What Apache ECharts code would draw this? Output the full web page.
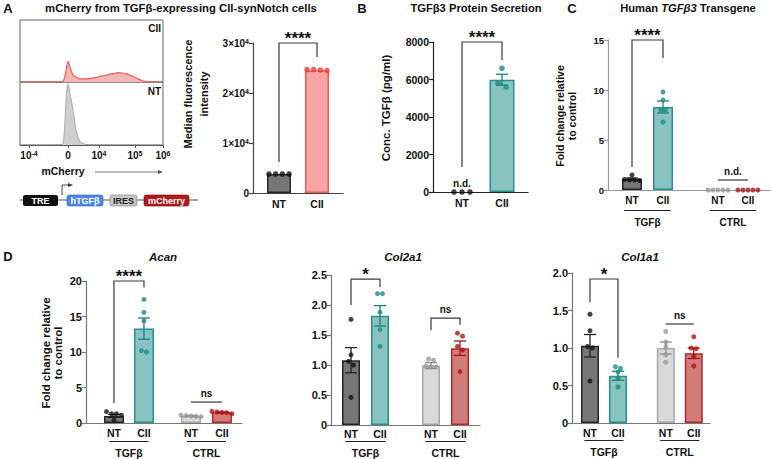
<!DOCTYPE html>
<html><head><meta charset="utf-8">
<script src="https://cdn.jsdelivr.net/npm/echarts@6/dist/echarts.min.js"></script>
<style>html,body{margin:0;padding:0;background:#fff}#c{width:773px;height:459px}</style>
</head><body><div id="c"></div>
<script>
// ================= DATA =================
// Panel A – flow cytometry histograms (display-scale positions, % of mode)
const histXCII = [0,40,42,44,46,47,48,49,50,52,54,56,58,62,66,70,75,80,85,90,95,98,102,106,110,114,118,122,126,130,143];
const histCII  = [0,0,0,4,18,28,33,30,24,15,10,8,6,5,5,5.5,7,9,10.5,12.5,14,15,14.5,13,11,8,5,2.5,1,0,0];
const histXNT  = [0,42,43,44,45,46,47,48,49,50,52,54,56,58,60,62,66,70,143];
const histNT   = [0,0,3,15,40,70,90,97,92,82,65,45,25,13,6,3,1,0,0];
const histTickPos    = [9,48,79,115,143];
const histTickLabels = ['10{s|-4}','0','10{s|4}','10{s|5}','10{s|6}'];

// Panel A – median fluorescence intensity
const mfiCats = ['NT','CII'];
const mfiMean = [3800, 24500];
const mfiPts  = [[3800,3800,3800,3800],[24500,24700,24700,24600]];

// Panel B – TGFβ3 secretion (pg/ml)
const secCats = ['NT','CII'];
const secMean = [0, 5990];
const secSem  = [0, 290];
const secPts  = [[0,0,0],[6600,5600,5800]];

// Panel C – human TGFβ3 transgene
const cats4  = ['NT','CII','NT','CII'];
const treat  = ['TGFβ','CTRL'];
const tgfMean = [1.1, 8.3, 0, 0];
const tgfSem  = [0.1, 0.6, 0, 0];
const tgfPts  = [[1.5,1.05,1.0,1.0,0.95],[9.8,9.0,8.0,8.0,6.8],[0,0,0,0,0],[0,0,0,0,0]];

// Panel D – Acan
const acanMean = [1.0, 13.3, 1.0, 1.5];
const acanSem  = [0.2, 1.5, 0.05, 0.06];
const acanPts  = [[1.6,1.3,1.3,1.1,0.4],[17.4,15.6,14.4,10.2,10.0],[1.1,1.05,1.0,0.95,0.9],[1.65,1.55,1.5,1.45,1.3]];
// Col2a1
const col2Mean = [1.08, 1.82, 0.99, 1.28];
const col2Sem  = [0.21, 0.17, 0.05, 0.12];
const col2Pts  = [[1.76,1.17,1.06,1.0,0.46],[2.19,2.19,1.88,1.59,1.31],[1.1,1.08,0.98,0.97,0.97],[1.53,1.48,1.31,1.25,0.89]];
// Col1a1
const col1Mean = [1.03, 0.63, 1.0, 0.93];
const col1Sem  = [0.15, 0.06, 0.08, 0.07];
const col1Pts  = [[1.45,1.23,1.02,1.0,0.56],[0.75,0.73,0.68,0.6,0.48],[1.22,1.08,1.02,0.91,0.81],[1.15,1.0,0.99,0.89,0.76]];

// Axis titles
const yTitleMFI = 'Median fluorescence\nintensity';
const yTitleSec = 'Conc. TGFβ (pg/ml)';
const yTitleFold = 'Fold change relative\nto control';

// ================= STYLE / LAYOUT =================
const FONT = "'Liberation Sans', Arial, Helvetica, sans-serif";
const C_NT = {fill:'#767676', border:'#262626', dot:'#111111', err:'#222222'};
const C_CII = {fill:'#86c3c1', border:'#2b8f8b', dot:'#1b8a85', err:'#1f7f7b'};
const C_CNT = {fill:'#d9d9d9', border:'#a8a8a8', dot:'#9a9a9a', err:'#8a8a8a'};
const C_CCII = {fill:'#d27b7b', border:'#b42a2a', dot:'#b01515', err:'#a01818'};
const C_ACII = {fill:'#f9a3a3', border:'#f25a5a', dot:'#ee3b3b', err:'#ee3b3b'};

const chart = echarts.init(document.getElementById('c'), null, {renderer:'svg', width:773, height:459});
const grids=[], xAxes=[], yAxes=[], series=[], graphics=[];

function swarm(vals, pxPerUnit, gap){
  const idx = vals.map((v,i)=>i).sort((a,b)=>vals[b]-vals[a]);
  const off = new Array(vals.length).fill(0);
  let i=0;
  while(i<idx.length){
    let j=i; const y0 = vals[idx[i]]*pxPerUnit;
    while(j+1<idx.length && (y0 - vals[idx[j+1]]*pxPerUnit) < 4) j++;
    const n=j-i+1;
    for(let k=0;k<n;k++) off[idx[i+k]] = (k-(n-1)/2)*gap;
    i=j+1;
  }
  return off;
}

function barPanel(p){
  const gi = grids.length;
  grids.push({left:p.left, top:p.top, width:p.width, height:p.height});
  const labelMap = {}; p.pos.forEach((v,i)=> labelMap[v.toFixed(3)] = p.cats[i]);
  xAxes.push({gridIndex:gi, type:'value', min:p.xmin, max:p.xmax, splitLine:{show:false},
    axisLine:{show:true, onZero:false, lineStyle:{color:p.axisColor, width:1.2}},
    axisTick:{show:false},
    axisLabel:{customValues:p.pos, formatter:v=>labelMap[Number(v).toFixed(3)]||'', margin:p.catMargin||5,
      fontSize:p.catFont, fontWeight:'bold', fontFamily:FONT, color:'#111'}});
  yAxes.push({gridIndex:gi, type:'value', min:0, max:p.ymax, interval:p.interval, splitLine:{show:false},
    axisLine:{show:true, lineStyle:{color:p.axisColor, width:1.2}},
    axisTick:{show:true, length:4, lineStyle:{color:p.axisColor, width:1.2}},
    axisLabel:{formatter:p.yfmt, fontSize:p.tickFont, fontWeight:'bold', fontFamily:FONT, color:'#111', margin:4,
      rich:{s:{fontSize:7, fontWeight:'bold', fontFamily:FONT, color:'#111', verticalAlign:'top', lineHeight:8}}}});
  // bars
  series.push({type:'bar', xAxisIndex:gi, yAxisIndex:gi, barWidth:p.barWidth, silent:true, z:2,
    data:p.means.map((m,i)=>({value:[p.pos[i], m], itemStyle:{color:p.colors[i].fill, borderColor:p.colors[i].border, borderWidth:1.5}}))
      .filter(d=>d.value[1]>0)});
  // error bars
  const sems = p.sems || p.means.map(()=>0);
  series.push({type:'custom', xAxisIndex:gi, yAxisIndex:gi, z:4, silent:true, encode:{x:0,y:1},
    data:sems.map((s,i)=>[p.pos[i], p.means[i], s, i]).filter(d=>d[2]>0),
    renderItem:(params, api)=>{
      const x=api.value(0), m=api.value(1), s=api.value(2), c=p.colors[api.value(3)].err;
      const t=api.coord([x,m+s]), b=api.coord([x,m-s]), hw=p.capHalf;
      const st={stroke:c, lineWidth:1.3};
      return {type:'group', children:[
        {type:'line', shape:{x1:t[0],y1:t[1],x2:b[0],y2:b[1]}, style:st},
        {type:'line', shape:{x1:t[0]-hw,y1:t[1],x2:t[0]+hw,y2:t[1]}, style:st},
        {type:'line', shape:{x1:b[0]-hw,y1:b[1],x2:b[0]+hw,y2:b[1]}, style:st}]};
    }});
  // dots
  const pxPerUnit = p.height/p.ymax;
  const dots=[];
  p.points.forEach((arr,i)=>{
    const off = swarm(arr, pxPerUnit, p.dotGap);
    arr.forEach((v,k)=>dots.push({value:[p.pos[i], v], symbolOffset:[off[k],0], itemStyle:{color:p.colors[i].dot}}));
  });
  series.push({type:'scatter', xAxisIndex:gi, yAxisIndex:gi, symbolSize:p.dotSize, clip:false, silent:true, z:5, data:dots});
  // brackets / annotations
  series.push({type:'custom', xAxisIndex:gi, yAxisIndex:gi, z:6, silent:true, clip:false, encode:{x:0,y:1},
    data:p.brackets.map((b,i)=>[p.pos[b.a], b.yTop, i]),
    renderItem:(params, api)=>{
      const b=p.brackets[api.value(2)];
      const x1=p.pos[b.a], x2=(b.b!=null)?p.pos[b.b]:x1;
      const ch=[];
      if(b.b!=null){
        const pts=[];
        if(b.yL!=null) pts.push(api.coord([x1,b.yL]));
        pts.push(api.coord([x1,b.yTop])); pts.push(api.coord([x2,b.yTop]));
        if(b.yR!=null) pts.push(api.coord([x2,b.yR]));
        ch.push({type:'polyline', shape:{points:pts}, style:{stroke:'#3a3a3a', lineWidth:1.2, fill:null}});
      }
      const mid=api.coord([(x1+x2)/2, b.yTop]);
      const star = b.text.indexOf('*')>=0;
      ch.push({type:'text', x:mid[0], y:mid[1]-(star?4.5:9), style:{text:b.text, fontSize:star?17:10, fontWeight:'bold',
        fontFamily:FONT, fill:'#111', textAlign:'center', textVerticalAlign:'middle', verticalAlign:'middle'}});
      return {type:'group', children:ch};
    }});
  // treatment group lines + labels
  if(p.groups){
    series.push({type:'custom', xAxisIndex:gi, yAxisIndex:gi, z:6, silent:true, clip:false, encode:{x:0,y:1},
      data:p.groups.map((g,i)=>[(p.pos[g.a]+p.pos[g.b])/2, 0, i]),
      renderItem:(params, api)=>{
        const g=p.groups[api.value(2)];
        const c=(p.pos[g.a]+p.pos[g.b])/2;
        const l=api.coord([c-p.groupHalf,0]), r=api.coord([c+p.groupHalf,0]), m=api.coord([c,0]);
        return {type:'group', children:[
          {type:'line', shape:{x1:l[0],y1:l[1]+p.lineDy,x2:r[0],y2:r[1]+p.lineDy}, style:{stroke:'#222', lineWidth:1.2}},
          {type:'text', x:m[0], y:m[1]+p.labelDy, style:{text:g.name, fontSize:p.catFont, fontWeight:'bold', fontFamily:FONT,
            fill:'#111', textAlign:'center', textVerticalAlign:'middle', verticalAlign:'middle'}}]};
      }});
  }
  // y-axis title (rotated, centred lines)
  if(p.yName){
    graphics.push({type:'text', x:p.nameX, y:p.nameY, rotation:Math.PI/2, silent:true,
      style:{text:p.yName, fontSize:p.nameFont, lineHeight:p.nameLH, fontWeight:'bold', fontFamily:FONT, fill:'#111',
        textAlign:'center', align:'center', textVerticalAlign:'middle', verticalAlign:'middle'}});
  }
}

// ---------- Histogram panel A ----------
function histPanel(){
  let gi = grids.length;
  grids.push({left:20, top:20, width:143, height:62, show:true, borderColor:'#666', borderWidth:1});
  xAxes.push({gridIndex:gi, type:'value', min:0, max:143, show:false});
  yAxes.push({gridIndex:gi, type:'value', min:0, max:100, show:false});
  series.push({type:'line', xAxisIndex:gi, yAxisIndex:gi, silent:true, symbol:'none', smooth:0.25, z:3,
    data:histXCII.map((x,i)=>[x,histCII[i]]), lineStyle:{color:'#f25a5a', width:1.2}, areaStyle:{color:'#f8b5b5', opacity:1}});
  gi = grids.length;
  const lab = {}; histTickPos.forEach((v,i)=>lab[v]=histTickLabels[i]);
  grids.push({left:20, top:82, width:143, height:63, show:true, borderColor:'#666', borderWidth:1});
  xAxes.push({gridIndex:gi, type:'value', min:0, max:143, splitLine:{show:false},
    axisLine:{show:true, lineStyle:{color:'#555'}},
    axisTick:{show:true, customValues:histTickPos, length:3, lineStyle:{color:'#555'}},
    axisLabel:{customValues:histTickPos, formatter:v=>lab[v]||'', margin:5, fontSize:10, fontWeight:'bold', fontFamily:FONT, color:'#111',
      rich:{s:{fontSize:7, fontWeight:'bold', fontFamily:FONT, color:'#111', verticalAlign:'top', lineHeight:8}}}});
  yAxes.push({gridIndex:gi, type:'value', min:0, max:100, show:false});
  series.push({type:'line', xAxisIndex:gi, yAxisIndex:gi, silent:true, symbol:'none', smooth:0.25, z:3,
    data:histXNT.map((x,i)=>[x,histNT[i]]), lineStyle:{color:'#9a9a9a', width:0.8}, areaStyle:{color:'#cfcfcf', opacity:1}});
}
histPanel();

barPanel({left:253, top:43, width:90, height:150, xmin:0.316, xmax:2.684, pos:[1,2], cats:mfiCats,
  ymax:30000, interval:10000, yfmt:v=>v===0?'0':(v/1e4)+'×10{s|4}', tickFont:10, catFont:10.5,
  yName:yTitleMFI, nameX:196, nameY:94, nameFont:11, nameLH:16, axisColor:'#444',
  means:mfiMean, sems:null, points:mfiPts, colors:[C_NT,C_ACII], barWidth:24, dotGap:6.7, dotSize:5.5, capHalf:5,
  brackets:[{a:0,b:1,yL:6200,yTop:30000,yR:27200,text:'****'}]});

barPanel({left:433, top:42, width:95, height:150, xmin:0.275, xmax:2.65, pos:[1,2], cats:secCats,
  ymax:8000, interval:2000, yfmt:v=>String(v), tickFont:10.5, catFont:10.5,
  yName:yTitleSec, nameX:386, nameY:108, nameFont:11.5, nameLH:13, axisColor:'#222',
  means:secMean, sems:secSem, points:secPts, colors:[C_NT,C_CII], barWidth:25, dotGap:8, dotSize:5.5, capHalf:6,
  brackets:[{a:0,b:1,yL:1330,yTop:8000,yR:7040,text:'****'},{a:0,b:null,yTop:0,text:'n.d.'}]});

const grp = [{a:0,b:1,name:treat[0]},{a:2,b:3,name:treat[1]}];
barPanel({left:608, top:40, width:162, height:150, xmin:0.226, xmax:5.45, pos:[1,2,3.77,4.74], cats:cats4,
  ymax:15, interval:5, yfmt:v=>String(v), tickFont:9.5, catFont:10,
  yName:yTitleFold, nameX:566, nameY:116, nameFont:10.5, nameLH:12, axisColor:'#9a9a9a',
  means:tgfMean, sems:tgfSem, points:tgfPts, colors:[C_NT,C_CII,C_CNT,C_CCII], barWidth:20, dotGap:5, dotSize:5, capHalf:6,
  groups:grp, groupHalf:0.75, lineDy:20.5, labelDy:32,
  brackets:[{a:0,b:1,yL:2.3,yTop:15,yR:13.2,text:'****'},{a:2,b:3,yL:null,yTop:1.0,yR:null,text:'n.d.'}]});

barPanel({left:86, top:281, width:156, height:142, xmin:0.067, xmax:5.27, pos:[1,2,3.57,4.6], cats:cats4,
  ymax:20, interval:5, yfmt:v=>String(v), tickFont:11, catFont:10.5, catMargin:4,
  yName:yTitleFold, nameX:52, nameY:353, nameFont:11.5, nameLH:12.5, axisColor:'#777',
  means:acanMean, sems:acanSem, points:acanPts, colors:[C_NT,C_CII,C_CNT,C_CCII], barWidth:20, dotGap:5, dotSize:5, capHalf:6,
  groups:grp, groupHalf:0.65, lineDy:18.5, labelDy:30,
  brackets:[{a:0,b:1,yL:2.8,yTop:20,yR:19.1,text:'****'},{a:2,b:3,yL:null,yTop:2.95,yR:null,text:'ns'}]});

barPanel({left:331, top:275, width:149, height:150, xmin:0.31, xmax:5.45, pos:[1,2,3.76,4.76], cats:cats4,
  ymax:2.5, interval:0.5, yfmt:v=>v===0?'0':v.toFixed(1), tickFont:11, catFont:10.5, catMargin:3,
  yName:'', axisColor:'#777',
  means:col2Mean, sems:col2Sem, points:col2Pts, colors:[C_NT,C_CII,C_CNT,C_CCII], barWidth:18, dotGap:5, dotSize:5, capHalf:6,
  groups:grp, groupHalf:0.7, lineDy:16.5, labelDy:28,
  brackets:[{a:0,b:1,yL:2.0,yTop:2.43,yR:2.3,text:'*'},{a:2,b:3,yL:1.58,yTop:1.78,yR:1.67,text:'ns'}]});

barPanel({left:572, top:273, width:138, height:150, xmin:0.357, xmax:5.29, pos:[1,2,3.71,4.71], cats:cats4,
  ymax:2, interval:0.5, yfmt:v=>v===0?'0':v.toFixed(1), tickFont:11, catFont:10.5, catMargin:4,
  yName:'', axisColor:'#777',
  means:col1Mean, sems:col1Sem, points:col1Pts, colors:[C_NT,C_CII,C_CNT,C_CCII], barWidth:18, dotGap:5, dotSize:5, capHalf:6,
  groups:grp, groupHalf:0.7, lineDy:17.5, labelDy:29,
  brackets:[{a:0,b:1,yL:1.61,yTop:1.92,yR:0.87,text:'*'},{a:2,b:3,yL:null,yTop:1.32,yR:null,text:'ns'}]});

// ---------- Text, titles & construct diagram ----------
function txt(t, x, y, size, opts){
  return Object.assign({type:'text', x:x, y:y, silent:true, style:Object.assign({text:t, fontSize:size, fontWeight:'bold', fontFamily:FONT,
    fill:'#111', textAlign:'center', textVerticalAlign:'middle', verticalAlign:'middle'}, (opts||{}))});
}
const rich = {n:{fontSize:11.2, fontWeight:'bold', fontFamily:FONT, fill:'#111'}, i:{fontSize:11.2, fontWeight:'bold', fontStyle:'italic', fontFamily:FONT, fill:'#111'}};
graphics.push(
  txt('A', 8, 8, 13), txt('B', 362, 8, 13), txt('C', 572, 8, 13), txt('D', 8, 256, 13),
  txt('mCherry from TGFβ-expressing CII-synNotch cells', 181, 8, 11.3),
  txt('TGFβ3 Protein Secretion', 476, 8, 11.2),
  {type:'text', x:688, y:8, silent:true, style:{text:'{n|Human }{i|TGFβ3}{n| Transgene}', rich:rich, textAlign:'center', textVerticalAlign:'middle', verticalAlign:'middle'}},
  txt('Acan', 163, 257, 11.5, {fontStyle:'italic'}),
  txt('Col2a1', 403, 257, 11.5, {fontStyle:'italic'}),
  txt('Col1a1', 640, 257, 11.5, {fontStyle:'italic'}),
  txt('CII', 161, 28, 10, {textAlign:'right'}),
  txt('NT', 161, 91, 10, {textAlign:'right'}),
  txt('mCherry', 63, 171, 10.5),
  {type:'line', silent:true, shape:{x1:95,y1:172,x2:160,y2:172}, style:{stroke:'#555', lineWidth:0.8}},
  {type:'polygon', silent:true, shape:{points:[[163,172],[158,170],[158,174]]}, style:{fill:'#555'}},
  // construct
  {type:'line', silent:true, shape:{x1:20,y1:200,x2:198,y2:200}, style:{stroke:'#555', lineWidth:1}},
  {type:'polyline', silent:true, shape:{points:[[62,195],[62,185],[69,185]]}, style:{stroke:'#333', lineWidth:0.9, fill:null}},
  {type:'polygon', silent:true, shape:{points:[[73,185],[68,183],[68,187]]}, style:{fill:'#333'}},
  {type:'rect', silent:true, shape:{x:23,y:195,width:35,height:11,r:2}, style:{fill:'#111'}},
  txt('TRE', 40.5, 200.8, 9, {fill:'#fff'}),
  {type:'rect', silent:true, shape:{x:67,y:195,width:36,height:11,r:2}, style:{fill:'#4a86e8', stroke:'#2f63b8', lineWidth:0.6}},
  txt('hTGFβ', 85, 200.8, 9, {fill:'#fff'}),
  {type:'rect', silent:true, shape:{x:110,y:195,width:27,height:11,r:2}, style:{fill:'#c8c8c8', stroke:'#7a7a7a', lineWidth:0.6}},
  txt('IRES', 123.5, 200.8, 9, {fill:'#222'}),
  {type:'rect', silent:true, shape:{x:144,y:195,width:45,height:11,r:2}, style:{fill:'#b01a1a', stroke:'#6e0b0b', lineWidth:0.6}},
  txt('mCherry', 166.5, 200.8, 9, {fill:'#fff'})
);

chart.setOption({
  animation:false,
  backgroundColor:'#ffffff',
  grid:grids, xAxis:xAxes, yAxis:yAxes, series:series,
  graphic:{elements:graphics}
});
</script>
</body></html>
